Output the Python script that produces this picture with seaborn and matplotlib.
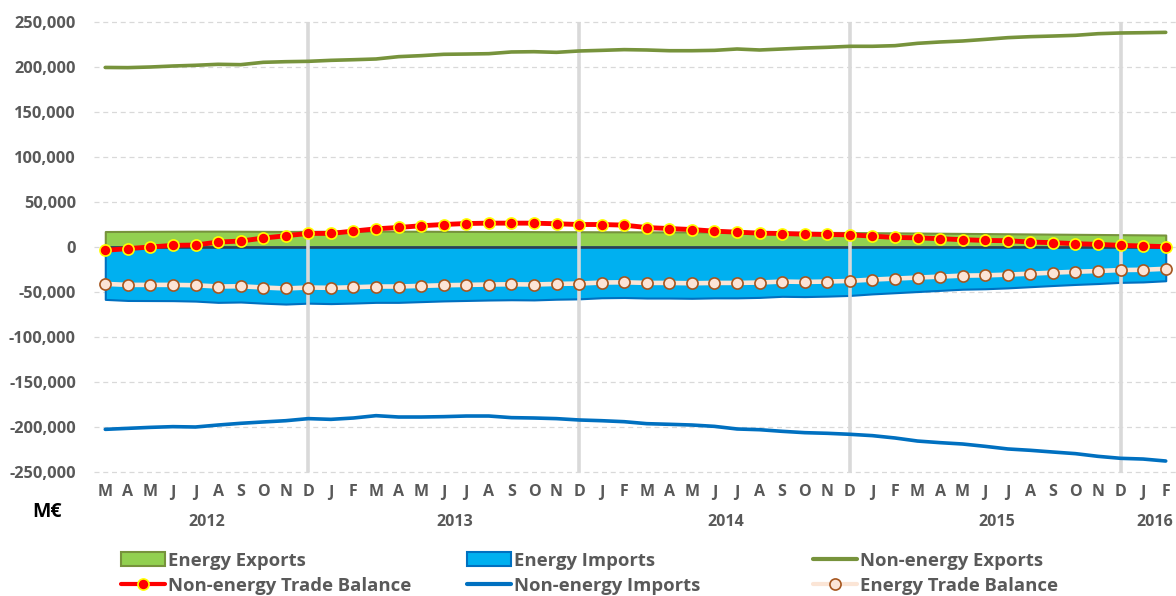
import numpy as np
import pandas as pd
import seaborn as sns
import matplotlib.pyplot as plt
from matplotlib.patches import Patch
from matplotlib.lines import Line2D
from matplotlib.ticker import FuncFormatter
import matplotlib.transforms as mtransforms

# data: monthly, March 2012 .. February 2016 (M EUR)
month_labels = ['M', 'A', 'M', 'J', 'J', 'A', 'S', 'O', 'N', 'D',
                'J', 'F', 'M', 'A', 'M', 'J', 'J', 'A', 'S', 'O', 'N', 'D',
                'J', 'F', 'M', 'A', 'M', 'J', 'J', 'A', 'S', 'O', 'N', 'D',
                'J', 'F', 'M', 'A', 'M', 'J', 'J', 'A', 'S', 'O', 'N', 'D',
                'J', 'F']
years = ['2012', '2013', '2014', '2015', '2016']
months_per_year = [10, 12, 12, 12, 2]

ne_exports = [199500, 199300, 200000, 201100, 201900, 203000, 202600, 205200, 205900, 206300,
              207400, 208100, 208900, 211500, 212600, 214100, 214400, 214800, 216700, 217000,
              216300, 217800, 218500, 219300, 218900, 218100, 218100, 218500, 220000, 218900,
              220000, 221100, 221900, 223000, 223000, 223700, 226300, 227800, 228900, 230700,
              232600, 233700, 234400, 235200, 237000, 237800, 238100, 238500]

ne_imports = [-202600, -201500, -200400, -199600, -200000, -197800, -195900, -194400, -193000, -190700,
              -191500, -190000, -187400, -188900, -188900, -188500, -187800, -187800, -189600, -190000,
              -190700, -192200, -193000, -194100, -196300, -197000, -197800, -199300, -202200, -203000,
              -204800, -206300, -207000, -208100, -209600, -212200, -215600, -217400, -218900, -221500,
              -224400, -225900, -227800, -229600, -232600, -234800, -235600, -237800]

ne_balance = [-3700, -1800, 0, 1800, 2200, 5500, 6600, 9900, 12500, 15100,
              15100, 17700, 20200, 21700, 23600, 25000, 26100, 26500, 26500, 26500,
              25800, 25000, 25000, 24300, 21600, 20500, 19400, 17600, 16500, 15400,
              15000, 14300, 13900, 13500, 12100, 10600, 10200, 9200, 8100, 7300,
              7000, 5500, 4800, 3700, 2900, 1800, 1100, 400]

energy_exports = [17200, 17300, 17400, 17500, 17600, 17600, 17500, 17400, 17300, 17400,
                  17500, 17600, 17600, 17600, 17500, 17400, 17300, 17200, 17200, 17100,
                  17000, 17000, 16900, 16900, 16800, 16800, 16700, 16600, 16600, 16500,
                  16400, 16300, 16200, 16100, 15900, 15700, 15500, 15300, 15100, 14900,
                  14700, 14500, 14300, 14100, 13900, 13700, 13500, 13300]

energy_imports = [-58200, -59400, -59500, -59600, -60100, -61500, -61100, -62400, -63400, -62400,
                  -62900, -62300, -61500, -61500, -60700, -59900, -59400, -58900, -58600, -58800,
                  -58000, -57600, -56400, -56100, -56700, -56700, -57000, -56500, -56500, -56000,
                  -54800, -55100, -54600, -53800, -52100, -50800, -49500, -48200, -46900, -46400,
                  -45400, -44100, -42800, -41600, -40600, -39300, -38800, -37500]

energy_balance = [-41000, -42100, -42100, -42100, -42500, -43900, -43600, -45000, -46100, -45000,
                  -45400, -44700, -43900, -43900, -43200, -42500, -42100, -41700, -41400, -41700,
                  -41000, -40600, -39500, -39200, -39900, -39900, -40300, -39900, -39900, -39500,
                  -38400, -38800, -38400, -37700, -36200, -35100, -34000, -32900, -31800, -31500,
                  -30700, -29600, -28500, -27500, -26700, -25600, -25300, -24200]

df = pd.DataFrame({
    'idx': np.arange(len(month_labels)),
    'ne_exports': ne_exports, 'ne_imports': ne_imports, 'ne_balance': ne_balance,
    'energy_exports': energy_exports, 'energy_imports': energy_imports,
    'energy_balance': energy_balance,
})

sns.set_style("white")
plt.rcParams['font.family'] = ['Open Sans', 'DejaVu Sans']

GREY = '#595959'
GREEN_FILL, GREEN_EDGE = '#92D050', '#77933C'
BLUE_FILL, BLUE_EDGE = '#00B0F0', '#0070C0'
PEACH, BROWN = '#FBE5D6', '#A5561F'

fig = plt.figure(figsize=(11.76, 5.96), dpi=100)
ax = fig.add_axes([94 / 1176, 1 - 472 / 596, 1083 / 1176, 450 / 596])

# horizontal dashed grid
for v in range(-250000, 250001, 50000):
    ax.axhline(v, color='#D9D9D9', lw=0.9, ls=(0, (4, 3)), zorder=0, clip_on=False)

# energy areas
ax.fill_between(df['idx'], 0, df['energy_exports'], facecolor=GREEN_FILL,
                edgecolor=GREEN_EDGE, lw=1.5, zorder=1)
ax.fill_between(df['idx'], 0, df['energy_imports'], facecolor=BLUE_FILL,
                edgecolor=BLUE_EDGE, lw=1.5, zorder=1)
ax.plot([df['idx'].iloc[0], df['idx'].iloc[-1]], [0, 0], color='#2F4050', lw=1.8, zorder=2)

# year separators at December
dec_idx = [i for i, m in enumerate(month_labels) if m == 'D']
for i in dec_idx:
    ax.plot([i, i], [-250000, 250000], color='#D9D9D9', lw=2.6, zorder=3,
            solid_capstyle='butt', clip_on=False)

sns.lineplot(data=df, x='idx', y='ne_exports', ax=ax, color=GREEN_EDGE, lw=2.6, zorder=4)
sns.lineplot(data=df, x='idx', y='ne_imports', ax=ax, color=BLUE_EDGE, lw=2.6, zorder=4)
sns.lineplot(data=df, x='idx', y='energy_balance', ax=ax, color=PEACH, lw=3.3, zorder=5,
             marker='o', markersize=8, markerfacecolor='#FCE4D6',
             markeredgecolor=BROWN, markeredgewidth=1.2)
sns.lineplot(data=df, x='idx', y='ne_balance', ax=ax, color='#FF0000', lw=3.5, zorder=6,
             marker='o', markersize=8, markerfacecolor='#FF0000',
             markeredgecolor='#FFFF00', markeredgewidth=1.2)

ax.set_xlim(-0.5, len(month_labels) - 0.5)
ax.set_ylim(-250000, 250000)
ax.set_xlabel('')
ax.set_ylabel('')
sns.despine(ax=ax, left=True, bottom=True)

ax.set_yticks(range(-250000, 250001, 50000))
ax.yaxis.set_major_formatter(FuncFormatter(lambda v, p: f'{v:,.0f}'))
ax.tick_params(axis='y', length=0, pad=13, labelsize=11.8, labelcolor=GREY)
ax.set_xticks(df['idx'])
ax.set_xticklabels(month_labels)
ax.tick_params(axis='x', length=0, pad=9, labelsize=11.5, labelcolor=GREY)
for t in ax.get_xticklabels() + ax.get_yticklabels():
    t.set_fontweight('bold')

# year labels under month groups
trans = mtransforms.blended_transform_factory(ax.transData, ax.transAxes)
start = 0
for y, n in zip(years, months_per_year):
    ax.text(start + (n - 1) / 2, -0.111, y, transform=trans, ha='center', va='center',
            fontsize=11.5, fontweight='bold', color=GREY)
    start += n

fig.text(47 / 1176, 1 - 512 / 596, 'M€', ha='center', va='center',
         fontsize=14, fontweight='bold', color='black')

# legend, three columns placed like the original
h_ee = Patch(facecolor=GREEN_FILL, edgecolor=GREEN_EDGE, lw=1.5)
h_ei = Patch(facecolor=BLUE_FILL, edgecolor=BLUE_EDGE, lw=1.5)
h_nx = Line2D([], [], color=GREEN_EDGE, lw=3)
h_nb = Line2D([], [], color='#FF0000', lw=3, marker='o', markersize=8,
              markerfacecolor='#FF0000', markeredgecolor='#FFFF00', markeredgewidth=1.2)
h_ni = Line2D([], [], color=BLUE_EDGE, lw=3)
h_eb = Line2D([], [], color=PEACH, lw=3, marker='o', markersize=8,
              markerfacecolor='#FCE4D6', markeredgecolor=BROWN, markeredgewidth=1.2)

cols = [
    (121, [h_ee, h_nb], ['Energy Exports', 'Non-energy Trade Balance']),
    (467, [h_ei, h_ni], ['Energy Imports', 'Non-energy Imports']),
    (813, [h_nx, h_eb], ['Non-energy Exports', 'Energy Trade Balance']),
]
for xpix, hs, labs in cols:
    fig.legend(hs, labs, loc='center left', bbox_to_anchor=(xpix / 1176, 1 - 573.5 / 596),
               frameon=False, borderpad=0, borderaxespad=0, handlelength=2.4,
               handleheight=0.8, handletextpad=0.12, labelspacing=0.4,
               prop={'size': 13.3, 'weight': 'bold'}, labelcolor=GREY)

fig.savefig('out.png', dpi=100)
